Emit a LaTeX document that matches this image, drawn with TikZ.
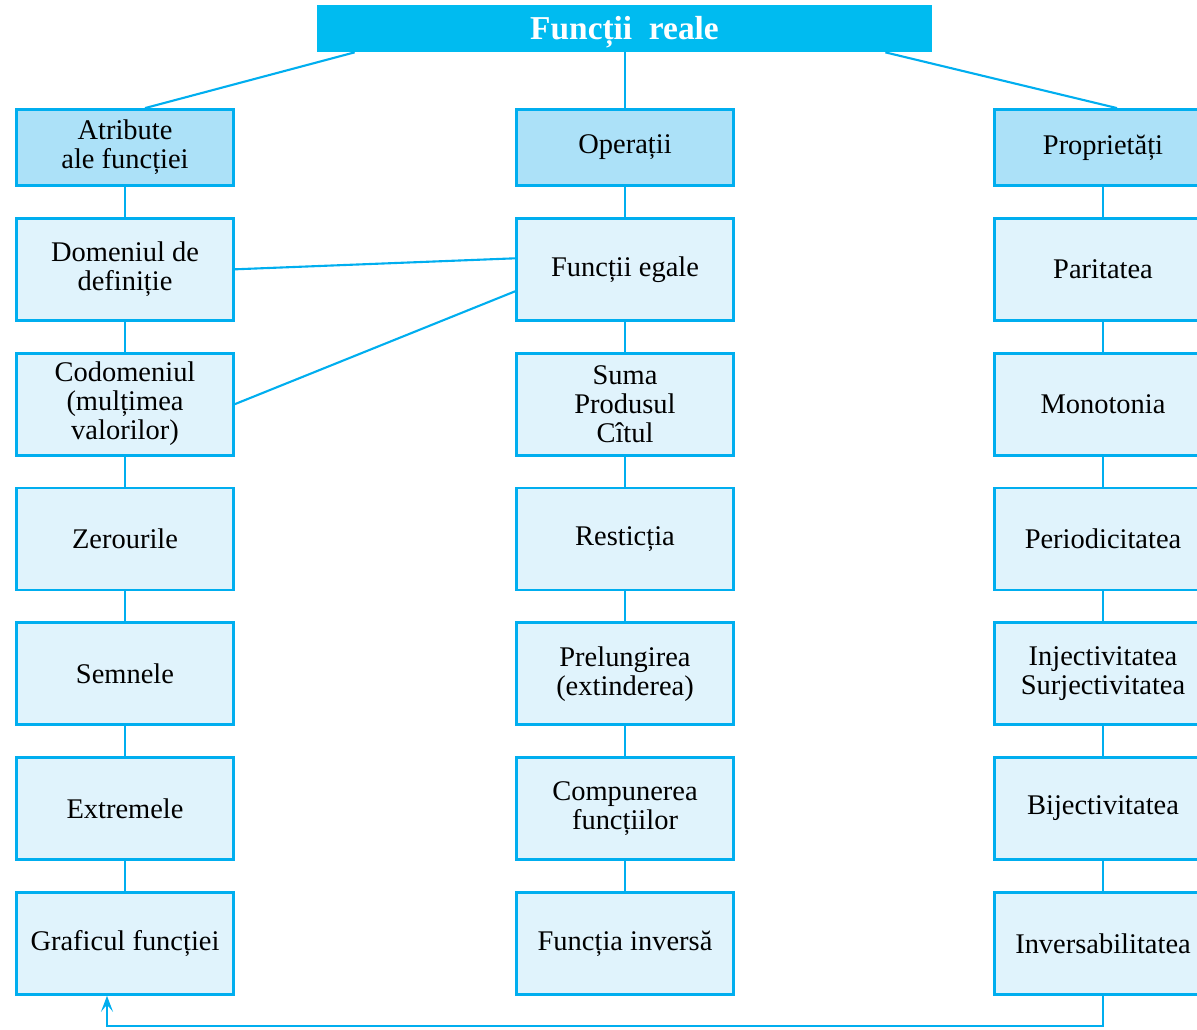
\documentclass[tikz,border=0pt]{standalone}
\usepackage{fontspec}
\setmainfont{Liberation Serif}
\usepackage{tikz}
\usetikzlibrary{calc, positioning, arrows.meta}
\definecolor{cyanline}{RGB}{0, 174, 239}
\definecolor{cyantitle}{RGB}{0, 187, 240}
\definecolor{headfill}{RGB}{172, 225, 248}
\definecolor{boxfill}{RGB}{224, 243, 252}

\begin{document}
\begin{tikzpicture}[
    font=\fontsize{16.2}{16.5}\selectfont,
    cell/.style={draw=cyanline, line width=1.6pt, fill=boxfill, align=center,
      minimum width=4.34cm, minimum height=2.04cm, inner sep=0pt},
    head/.style={cell, fill=headfill, minimum height=1.52cm},
    link/.style={cyanline, line width=1.2pt},
    node distance=0.6cm
  ]
  \clip (0,0) rectangle (23.94,-20.58);

  % Title bar
  \node[fill=cyantitle, minimum width=12.3cm, minimum height=0.94cm, inner sep=0pt,
    text height=0.5cm, text depth=0.08cm,
    text=white, font=\fontsize{19}{22}\selectfont\bfseries] (title) at (12.49,-0.57)
    {Funcții\ \ reale};

  % Left column
  \node[head] (atr) at (2.5,-2.95) {Atribute\\ale funcției};
  \node[cell, below=of atr] (dom) {Domeniul de\\definiție};
  \node[cell, below=of dom] (cod) {Codomeniul\\(mulțimea\\valorilor)};
  \node[cell, below=of cod] (zer) {Zerourile};
  \node[cell, below=of zer] (sem) {Semnele};
  \node[cell, below=of sem] (ext) {Extremele};
  \node[cell, below=of ext] (graf) {Graficul funcției};

  % Middle column
  \node[head] (op) at (12.5,-2.95) {Operații};
  \node[cell, below=of op] (egl) {Funcții egale};
  \node[cell, below=of egl] (sum) {Suma\\Produsul\\Cîtul};
  \node[cell, below=of sum] (res) {Resticția};
  \node[cell, below=of res] (pre) {Prelungirea\\(extinderea)};
  \node[cell, below=of pre] (comp) {Compunerea\\funcțiilor};
  \node[cell, below=of comp] (finv) {Funcția inversă};

  % Right column
  \node[head] (prop) at (22.06,-2.95) {Proprietăți};
  \node[cell, below=of prop] (par) {Paritatea};
  \node[cell, below=of par] (mon) {Monotonia};
  \node[cell, below=of mon] (per) {Periodicitatea};
  \node[cell, below=of per] (inj) {Injectivitatea\\Surjectivitatea};
  \node[cell, below=of inj] (bij) {Bijectivitatea};
  \node[cell, below=of bij] (invs) {Inversabilitatea};

  % Title to headers
  \draw[link] ($(title.south west)+(0.76,0)$) -- ($(atr.north)+(0.4,0)$);
  \draw[link] (title.south -| op.north) -- (op.north);
  \draw[link] ($(title.south east)+(-0.94,0)$) -- ($(prop.north)+(0.28,0)$);

  % Column chains
  \foreach \a/\b in {atr/dom, dom/cod, cod/zer, zer/sem, sem/ext, ext/graf,
      op/egl, egl/sum, sum/res, res/pre, pre/comp, comp/finv,
      prop/par, par/mon, mon/per, per/inj, inj/bij, bij/invs}
    \draw[link] (\a.south) -- (\b.north);

  % Cross links
  \draw[link] (dom.east) -- ($(egl.west)+(0,0.22)$);
  \draw[link] (cod.east) -- ($(egl.west)+(0,-0.44)$);

  % Back to the graph
  \coordinate (low) at (0,-20.52);
  \draw[link, -{Stealth[length=3.2mm, width=2.4mm, inset=1.4mm]}]
    (invs.south) -- (invs.south |- low) -| ($(graf.south)+(-0.36,0)$);
\end{tikzpicture}
\end{document}
